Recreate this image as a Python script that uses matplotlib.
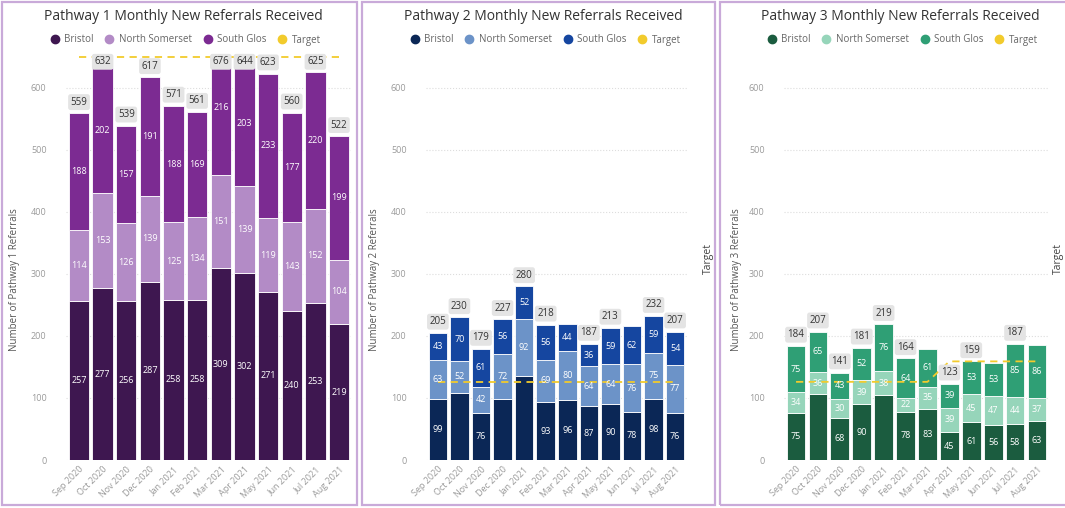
import matplotlib.pyplot as plt
from matplotlib.lines import Line2D
from matplotlib.patches import Rectangle

plt.rcParams["font.family"] = ["Open Sans", "DejaVu Sans"]

months = ["Sep 2020", "Oct 2020", "Nov 2020", "Dec 2020", "Jan 2021", "Feb 2021",
          "Mar 2021", "Apr 2021", "May 2021", "Jun 2021", "Jul 2021", "Aug 2021"]
series_names = ["Bristol", "North Somerset", "South Glos"]

p1_bristol = [257, 277, 256, 287, 258, 258, 309, 302, 271, 240, 253, 219]
p1_north_somerset = [114, 153, 126, 139, 125, 134, 151, 139, 119, 143, 152, 104]
p1_south_glos = [188, 202, 157, 191, 188, 169, 216, 203, 233, 177, 220, 199]
p1_target = [650, 650, 650, 650, 650, 650, 650, 650, 650, 650, 650, 650]

p2_bristol = [99, 108, 76, 99, 136, 93, 96, 87, 90, 78, 98, 76]
p2_north_somerset = [63, 52, 42, 72, 92, 69, 80, 64, 64, 76, 75, 77]
p2_south_glos = [43, 70, 61, 56, 52, 56, 44, 36, 59, 62, 59, 54]
p2_target = [125, 125, 125, 125, 125, 125, 125, 125, 125, 125, 125, 125]

p3_bristol = [75, 106, 68, 90, 105, 78, 83, 45, 61, 56, 58, 63]
p3_north_somerset = [34, 36, 30, 39, 38, 22, 35, 39, 45, 47, 44, 37]
p3_south_glos = [75, 65, 43, 52, 76, 64, 61, 39, 53, 53, 85, 86]
p3_target = [126, 126, 126, 126, 126, 126, 126, 159, 159, 159, 159, 159]

panels = [
    dict(n=1, data=[p1_bristol, p1_north_somerset, p1_south_glos], target=p1_target,
         colors=["#3e1750", "#b38bc6", "#7c2b92"],
         left=66, right=352, title_x=183, ylabel_x=15, target_x=None,
         hide_seg={}, hide_tot=[]),
    dict(n=2, data=[p2_bristol, p2_north_somerset, p2_south_glos], target=p2_target,
         colors=["#0b2756", "#6c93c8", "#1546a0"],
         left=426, right=687, title_x=543, ylabel_x=374, target_x=708,
         hide_seg={0: [1, 3, 4]}, hide_tot=[6, 9]),
    dict(n=3, data=[p3_bristol, p3_north_somerset, p3_south_glos], target=p3_target,
         colors=["#1b5c3f", "#96d5ba", "#2f9f75"],
         left=784, right=1049, title_x=900, ylabel_x=736, target_x=1058,
         hide_seg={0: [1, 4]}, hide_tot=[6, 9, 11]),
]

W, H = 1065, 508
fig = plt.figure(figsize=(W / 100, H / 100), dpi=100)
fig.patch.set_facecolor("white")

# panel frames
for x0, x1 in [(2, 357), (362, 715), (720, 1068)]:
    fig.patches.append(Rectangle((x0 / W, 3 / H), (x1 - x0) / W, (H - 5) / H,
                                 transform=fig.transFigure, fill=False,
                                 ec="#c9aad9", lw=1.6))

ax_top, ax_bot = 68, 460
ymax = 632
target_color = "#f2cb2c"

for p in panels:
    ax = fig.add_axes([p["left"] / W, (H - ax_bot) / H,
                       (p["right"] - p["left"]) / W, (ax_bot - ax_top) / H])
    x = list(range(len(months)))
    bottom = [0] * len(months)
    for si, (vals, col) in enumerate(zip(p["data"], p["colors"])):
        ax.bar(x, vals, bottom=bottom, width=0.86, color=col,
               edgecolor="white", linewidth=0.6, zorder=2)
        for i, (b, v) in enumerate(zip(bottom, vals)):
            if i in p["hide_seg"].get(si, []):
                continue
            yc = b + v / 2
            if yc < ymax:
                ax.text(i, yc, str(v), ha="center", va="center", color="white",
                        fontsize=6.5, zorder=4)
        bottom = [b + v for b, v in zip(bottom, vals)]

    totals = bottom
    for i, t in enumerate(totals):
        if i in p["hide_tot"]:
            continue
        ax.text(i, min(t, ymax - 8) + 18, str(t), ha="center", va="center",
                fontsize=7, color="#333333", zorder=5, clip_on=False,
                bbox=dict(boxstyle="round,pad=0.25", fc="#e4e4e4", ec="none"))

    ax.plot(x, p["target"], color=target_color, lw=1.3, ls=(0, (4, 3)),
            zorder=3, clip_on=False)

    ax.set_xlim(-0.55, len(months) - 0.45)
    ax.set_ylim(0, ymax)
    ax.set_yticks(range(0, 601, 100))
    ax.grid(axis="y", color="#dddddd", ls=":", lw=0.8, zorder=0)
    ax.set_axisbelow(True)
    for s in ax.spines.values():
        s.set_visible(False)
    ax.tick_params(length=0, labelsize=6.5, labelcolor="#9a9a9a")
    ax.tick_params(axis="y", pad=14)
    ax.set_xticks(x)
    ax.set_xticklabels(months, rotation=45, ha="right", rotation_mode="anchor")

    fig.text(p["title_x"] / W, 1 - 16 / H,
             f"Pathway {p['n']} Monthly New Referrals Received",
             ha="center", va="center", fontsize=10, color="#333333")
    fig.text(p["ylabel_x"] / W, 1 - 280 / H, f"Number of Pathway {p['n']} Referrals",
             rotation=90, ha="center", va="center", fontsize=7, color="#555555")
    if p["target_x"] is not None:
        fig.text(p["target_x"] / W, 1 - 258 / H, "Target", rotation=90,
                 ha="center", va="center", fontsize=7.5, color="#444444")

    handles = [Line2D([], [], ls="none", marker="o", ms=6, color=c)
               for c in [p["colors"][0], p["colors"][1], p["colors"][2], target_color]]
    fig.legend(handles, series_names + ["Target"], loc="center",
               bbox_to_anchor=(p["title_x"] / W, 1 - 40 / H), ncol=4,
               frameon=False, fontsize=7, handletextpad=0.0, columnspacing=0.6,
               labelcolor="#666666", borderaxespad=0)

plt.savefig("out.png", dpi=100)
